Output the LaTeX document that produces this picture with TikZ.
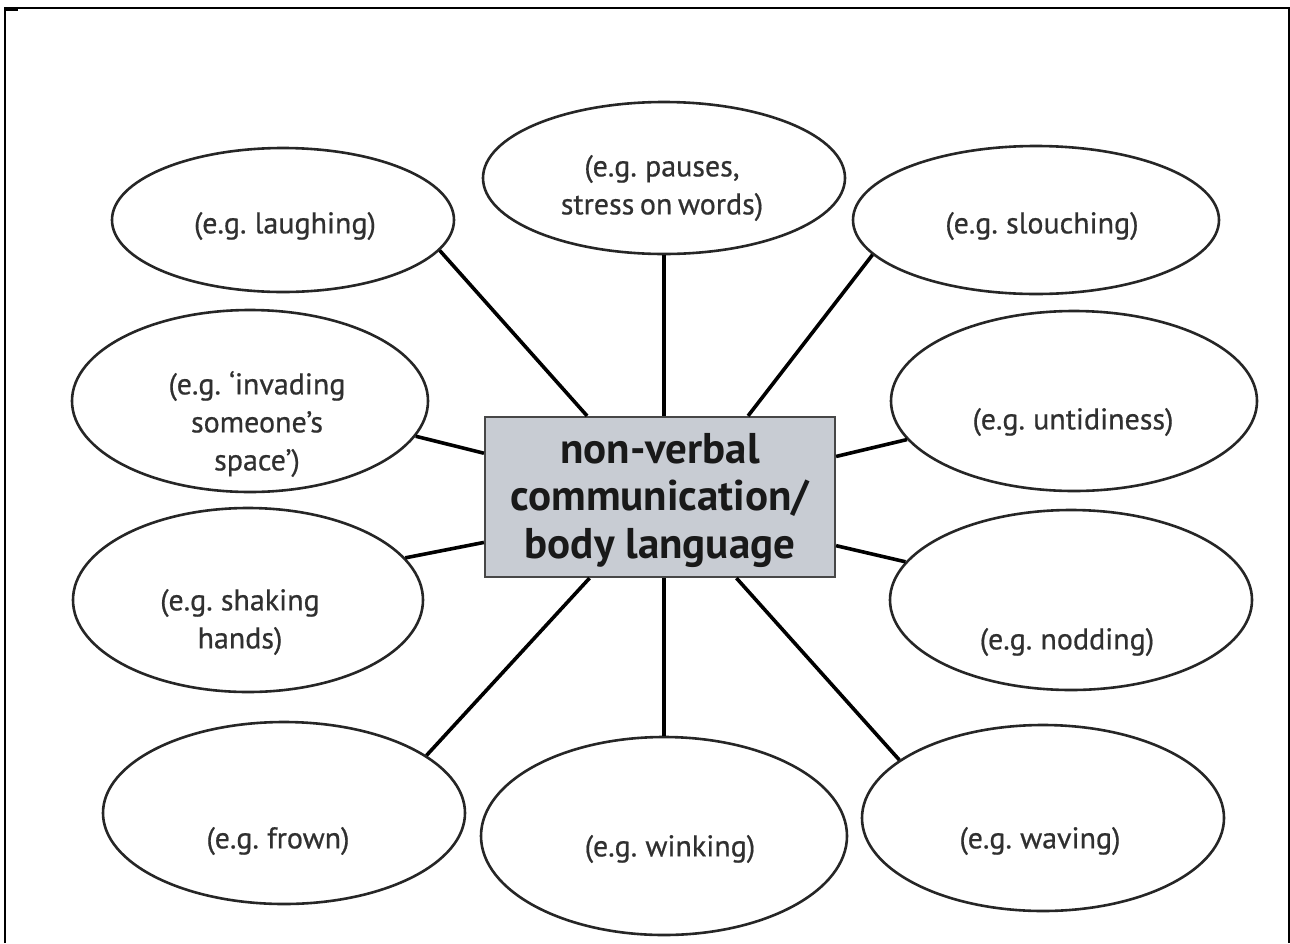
\documentclass[tikz,border=0pt]{standalone}
\usepackage{fontspec}
\setmainfont{PT Sans}
\newfontfamily\lblfont[WordSpace=0.7,FakeBold=0.6]{PT Sans}
\usetikzlibrary{shapes.geometric,calc}
\definecolor{hubfill}{RGB}{200,204,211}
\definecolor{inkgrey}{RGB}{48,48,48}
\begin{document}
\begin{tikzpicture}[x=1pt,y=-1pt,
  bubble/.style={ellipse, draw=black!85, line width=2.6pt, fill=white, inner sep=0pt},
  lbl/.style={font=\lblfont\fontsize{30}{38}\selectfont, text=inkgrey, align=center, inner sep=0pt},
  link/.style={line width=3.6pt, black},
  hub/.style={rectangle, draw=black!72, line width=2.2pt, fill=hubfill,
    minimum width=350pt, minimum height=160pt, inner sep=0pt,
    font=\fontsize{43}{47.5}\selectfont\bfseries, text=black!90, align=center},
  hubtext/.style={font=\fontsize{43}{47.5}\selectfont\bfseries, text=black!90, align=center, inner sep=0pt},
  frame/.style={line width=2pt, black}]
\useasboundingbox (0,0) rectangle (1290,943);
% frame
\draw[frame] (5,943) -- (5,8) -- (1289,8) -- (1289,943);
\draw[line width=1.5pt] (5,10) -- (18,10);
% ellipses
\node[bubble, minimum width=342pt, minimum height=144pt] (lau) at (283,220) {};
\node[bubble, minimum width=362pt, minimum height=152pt] (pau) at (664,178) {};
\node[bubble, minimum width=366pt, minimum height=148pt] (slo) at (1036,220) {};
\node[bubble, minimum width=356pt, minimum height=182pt] (inv) at (250,401) {};
\node[bubble, minimum width=366pt, minimum height=180pt] (unt) at (1074,401) {};
\node[bubble, minimum width=350pt, minimum height=184pt] (sha) at (248,600) {};
\node[bubble, minimum width=362pt, minimum height=180pt] (nod) at (1071,600) {};
\node[bubble, minimum width=362pt, minimum height=182pt] (fro) at (284,813) {};
\node[bubble, minimum width=366pt, minimum height=198pt] (win) at (664,836) {};
\node[bubble, minimum width=362pt, minimum height=186pt] (wav) at (1043,818) {};
% labels
\node[lbl] (tlau) at (285,226) {(e.g. laughing)};
\node[lbl] (tpau) at (662,188) {(e.g. pauses,\\stress on words)};
\node[lbl] (tslo) at (1042,226) {(e.g. slouching)};
\node[lbl] (tinv) at (257,424) {(e.g. ‘invading\\someone’s\\space’)};
\node[lbl] (tunt) at (1073,422) {(e.g. untidiness)};
\node[lbl] (tsha) at (240,622) {(e.g. shaking\\hands)};
\node[lbl] (tnod) at (1067,642) {(e.g. nodding)};
\node[lbl] (tfro) at (278,841) {(e.g. frown)};
\node[lbl] (twin) at (670,849) {(e.g. winking)};
\node[lbl] (twav) at (1040,841) {(e.g. waving)};
% hub
\node[hub] (hub) at (660,497) {};
\node[hubtext] (thub) at (660,500) {non-verbal\\communication/\\body language};
% connectors
\draw[link] ($(hub.north west)!0.293!(hub.north east)$) -- (lau.-11);
\draw[link] (pau.south) -- (pau.south |- hub.north);
\draw[link] ($(hub.north west)!0.750!(hub.north east)$) -- (slo.192);
\draw[link] ($(hub.north west)!0.23!(hub.south west)$) -- (inv.-12);
\draw[link] ($(hub.north east)!0.25!(hub.south east)$) -- (unt.193);
\draw[link] ($(hub.north west)!0.78!(hub.south west)$) -- (sha.15.5);
\draw[link] ($(hub.north east)!0.80!(hub.south east)$) -- (nod.167);
\draw[link] ($(hub.south west)!0.30!(hub.south east)$) -- (fro.22);
\draw[link] (win.north) -- (win.north |- hub.south);
\draw[link] ($(hub.south west)!0.717!(hub.south east)$) -- (wav.158);
\end{tikzpicture}
\end{document}
